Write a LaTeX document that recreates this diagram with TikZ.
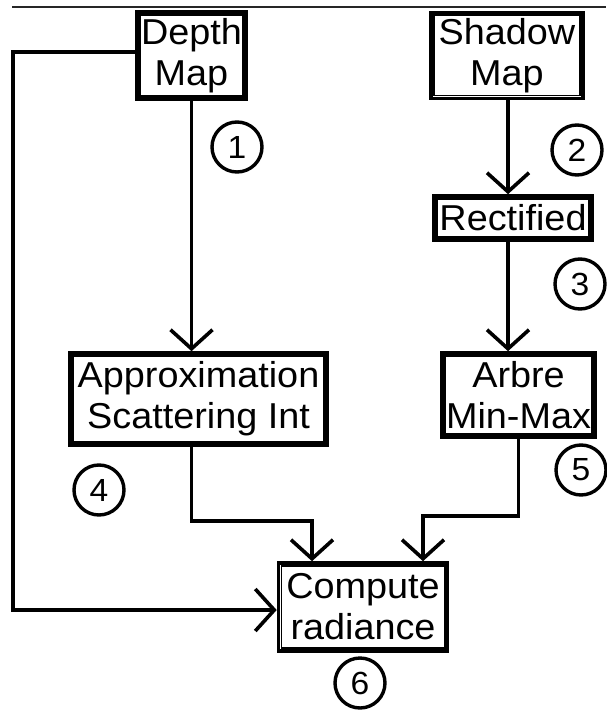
\documentclass[tikz,border=0pt]{standalone}
\usepackage{fontspec}
\setmainfont{Liberation Sans}[FakeStretch=1.05]
\usetikzlibrary{arrows.meta}
\begin{document}
\begin{tikzpicture}[x=1pt,y=-1pt,
  box/.style={draw,line width=3.6pt,inner sep=0pt,align=center,
    font=\fontsize{36}{41}\selectfont},
  innerbox/.style={line width=1.6pt},
  conn/.style={line width=3.6pt},
  arr/.style={conn,-{Straight Barb[length=19pt,width=42pt,line width=3.6pt]}},
  num/.style={draw,circle,line width=3.4pt,minimum size=50pt,inner sep=0pt,
    font=\fontsize{32}{32}\selectfont}]
\useasboundingbox (0,0) rectangle (606,714);
\draw[line width=2.2pt,black!85] (12,7) -- (606,7);
% boxes
\node[box,minimum width=109pt,minimum height=87pt] (depth) at (191.5,55.5) {Depth\\Map};
\node[box,minimum width=152pt,minimum height=86pt] (shadow) at (507,55.5) {Shadow\\Map};
\node[box,minimum width=158pt,minimum height=44pt] (rect) at (513,218) {Rectified};
\node[box,minimum width=257pt,minimum height=92pt] (approx) at (198.5,399) {Approximation\\Scattering Int};
\node[box,minimum width=153pt,minimum height=84pt] (arbre) at (518.5,395) {Arbre\\Min-Max};
\node[box,minimum width=169pt,minimum height=88pt] (compute) at (363,607) {Compute\\radiance};
\foreach \n in {depth,shadow,rect,approx,arbre,compute}
  \draw[innerbox] ([xshift=4.6pt,yshift=4.6pt]\n.south west) rectangle ([xshift=-4.6pt,yshift=-4.6pt]\n.north east);
% numbers
\node[num] (n1) at (237,147) {1};
\node[num] (n2) at (577,150) {2};
\node[num] (n3) at (580,284) {3};
\node[num] (n4) at (99,490) {4};
\node[num] (n5) at (581,470) {5};
\node[num] (n6) at (360,683) {6};
% connectors
\coordinate (sx) at (508,0);
\draw[arr] (depth.south) -- (depth.south |- approx.north);
\draw[arr] (shadow.south -| sx) -- (rect.north -| sx);
\draw[arr] (rect.south -| sx) -- (arbre.north -| sx);
\coordinate (ca) at (312,521);
\coordinate (cb) at (423,516);
\coordinate (lx) at (13,52);
\draw[arr] (approx.south -| depth.south) |- (ca) -- (ca |- compute.north);
\draw[arr] (arbre.south) |- (cb) -- (cb |- compute.north);
\draw[arr] (depth.west |- lx) -- (lx) |- ([yshift=-3pt]compute.west);
\end{tikzpicture}
\end{document}
